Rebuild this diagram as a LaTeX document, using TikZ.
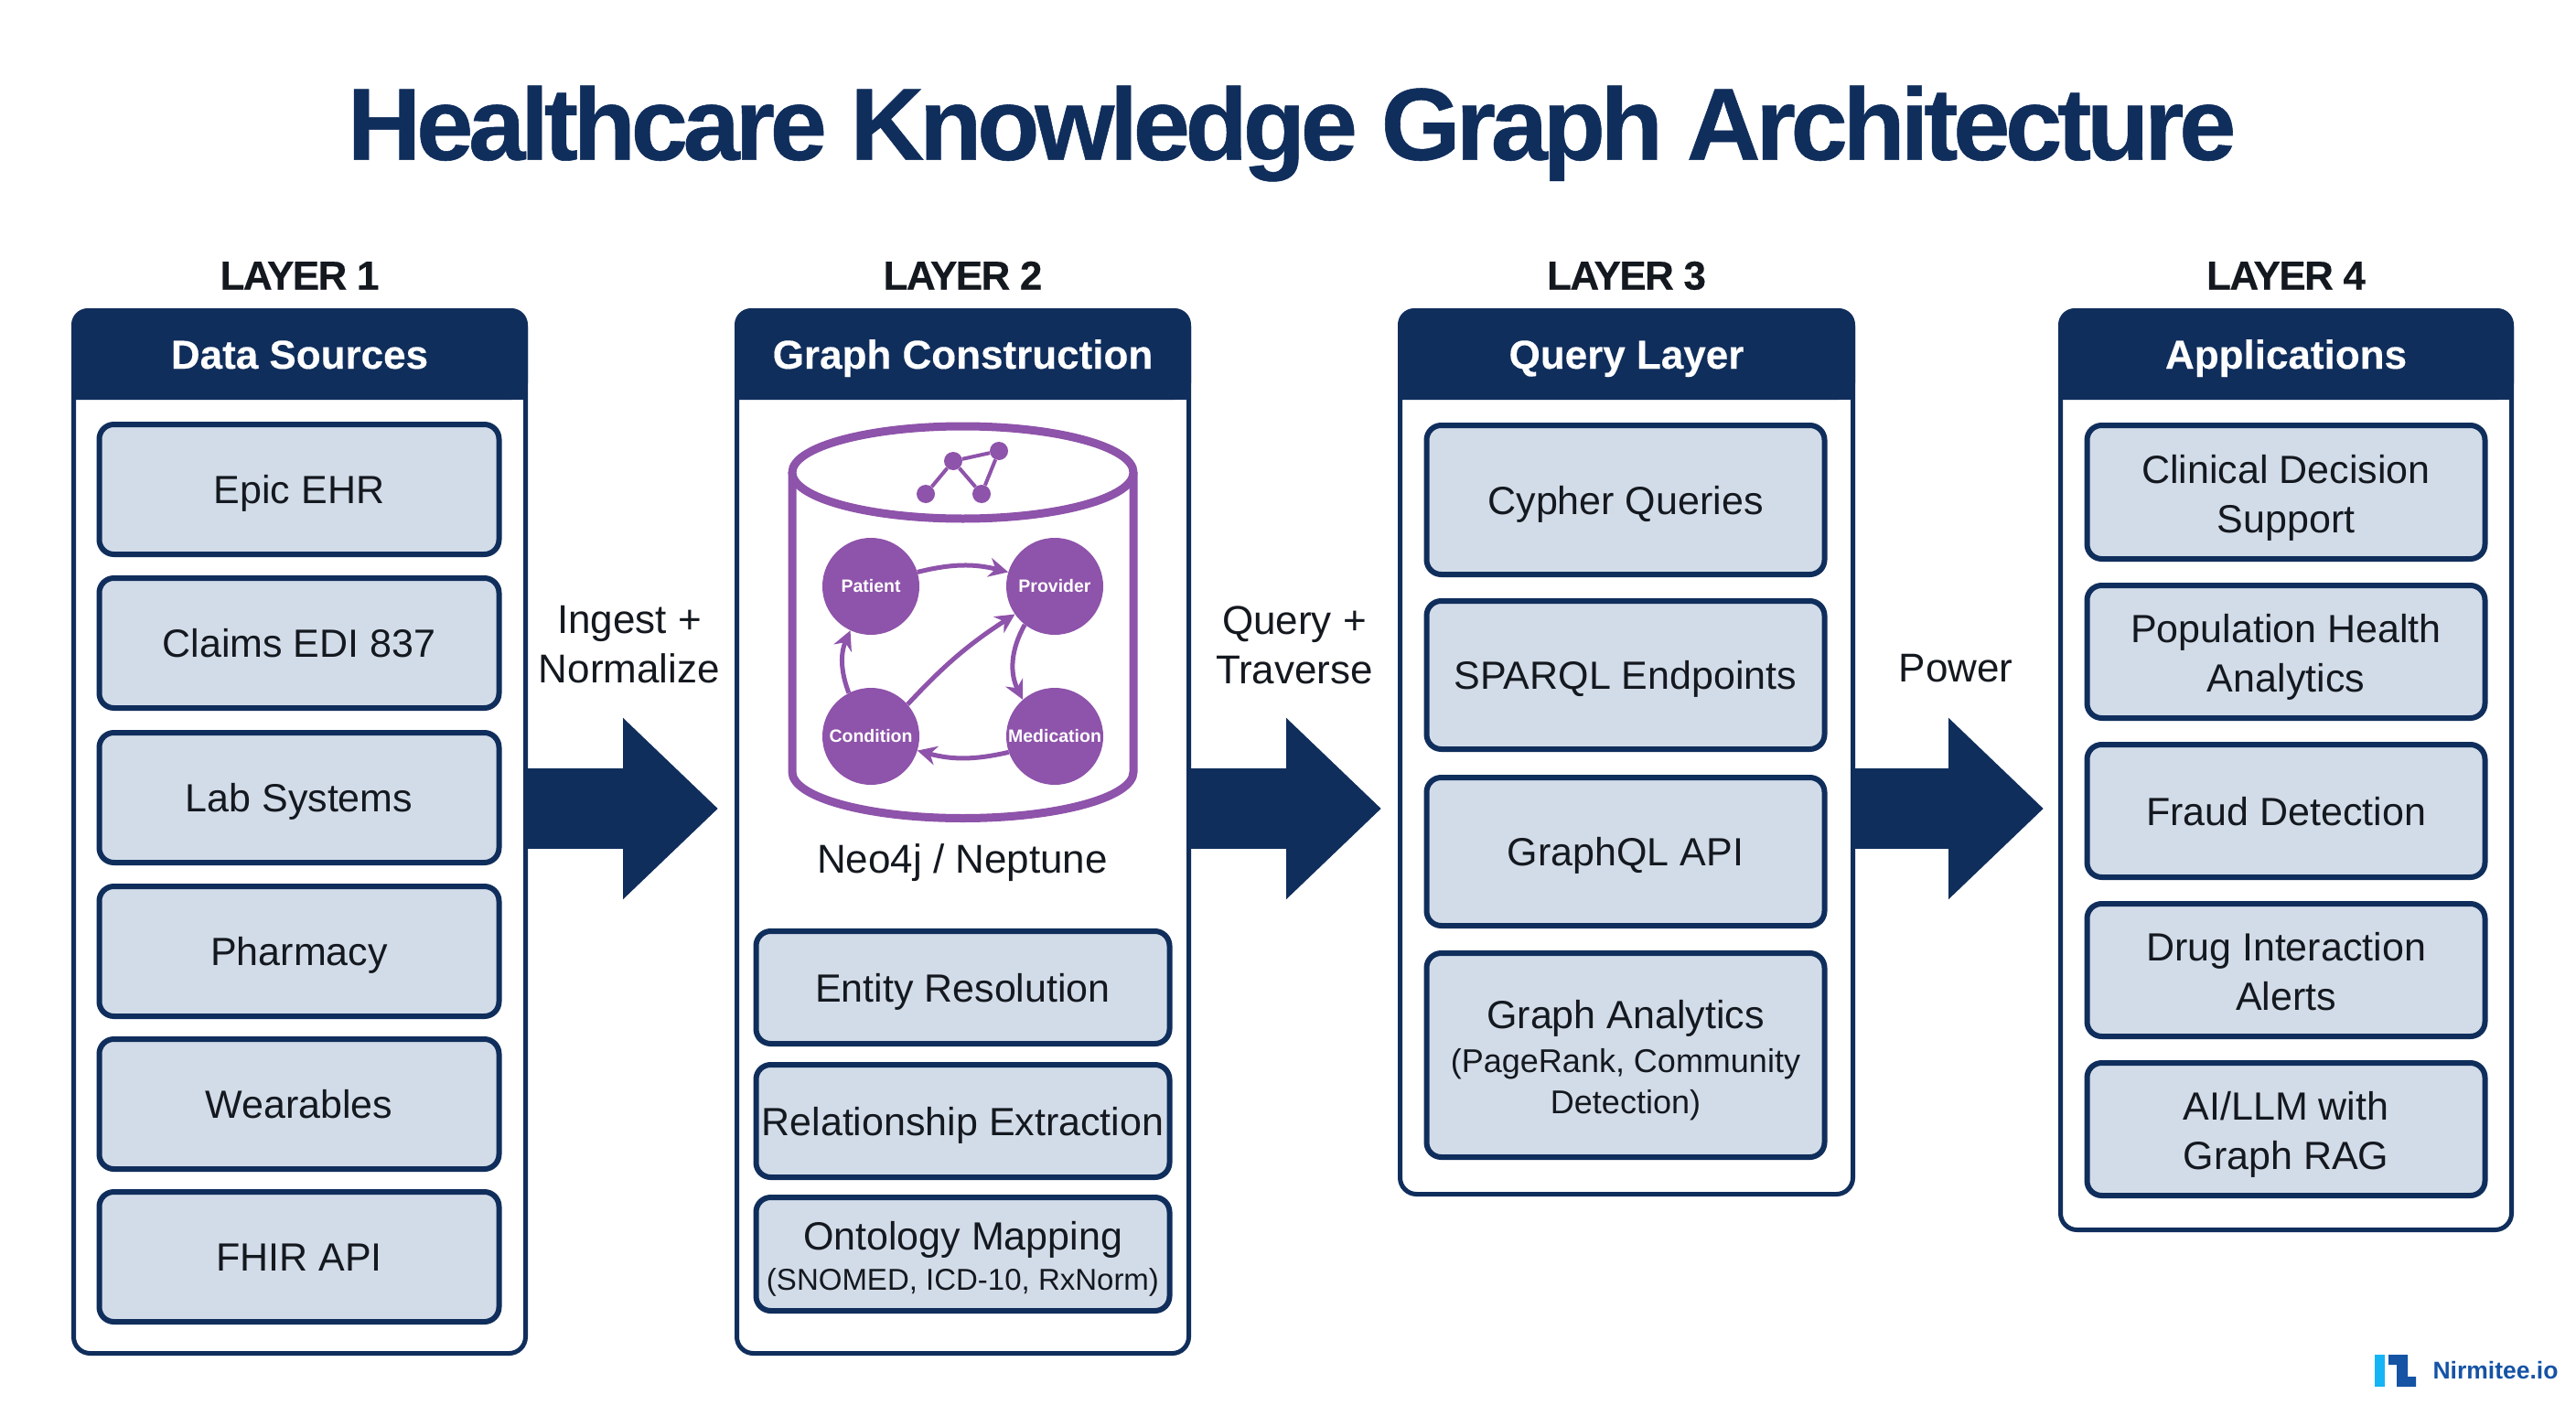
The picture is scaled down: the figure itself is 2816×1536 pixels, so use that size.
\documentclass[tikz,border=0pt]{standalone}
\usepackage{fontspec}
\setmainfont{Liberation Sans}
\newfontface\titlef{Liberation Sans Bold}[LetterSpace=-4.8,FakeBold=0.5]
\newfontface\layerf{Liberation Sans Bold}[LetterSpace=-3.6,FakeBold=0.3]
\newfontface\headf{Liberation Sans Bold}[FakeBold=0.3]
\usetikzlibrary{arrows.meta,shapes.geometric,calc}
\definecolor{navy}{HTML}{102E5C}
\definecolor{boxfill}{HTML}{D2DCE8}
\definecolor{gviolet}{HTML}{8E53AA}
\definecolor{ink}{HTML}{14181F}
\definecolor{logoblue}{HTML}{1553A5}
\definecolor{logosky}{HTML}{14B4F5}
\newcommand\fs[2]{\fontsize{#1bp}{#2bp}\selectfont}
\newcommand\mystrut{\vrule width 0pt height 40bp depth 9bp\relax}
\newcommand\dropline{\vrule width 0pt height 43bp depth 0bp\relax}
\tikzset{
  panelbox/.style={draw=navy,fill=white,line width=5bp,rounded corners=18bp,inner sep=0pt},
  itemstyle/.style={draw=navy,fill=boxfill,line width=6bp,rounded corners=16bp,inner sep=0pt,text=ink,align=center,font=\fs{43}{54},execute at begin node=\mystrut,execute at end node=\mystrut},
  headtext/.style={text=white,font=\headf\fs{44}{50},inner sep=0pt,anchor=base},
  layertext/.style={text=ink,font=\layerf\fs{44}{50},inner sep=0pt,anchor=base},
  flowtext/.style={text=ink,align=center,font=\fs{44}{54},inner sep=0pt},
  fatarrow/.style={draw=navy,line width=88bp,-{Triangle[length=104bp,width=192bp]},shorten >=18bp},
  gnode/.style={circle,fill=gviolet,minimum size=106bp,inner sep=0pt,text=white,font=\bfseries\fs{19.5}{22}},
  gedge/.style={draw=gviolet,line width=5bp,-{Stealth[length=21bp,width=21bp]}},
  cyl/.style={draw=gviolet,line width=9bp},
  mini/.style={circle,fill=gviolet,minimum size=20bp,inner sep=0pt},
  miniedge/.style={draw=gviolet,line width=4bp},
}
\newcommand\lpanel[6]{%
  \node[panelbox,minimum width={(#3-#2-5)*1bp},minimum height={(#4-337-5)*1bp}] (#1) at ({(#2+#3)/2},{(337+#4)/2}) {};
  \fill[navy] (#2,437) [rounded corners=18bp] -- (#2,337) -- (#3,337) -- (#3,437) [sharp corners] -- (#2,437) -- cycle;
  \fill[navy] (#2,400) rectangle (#3,437);
  \node[headtext] (#1h) at ({(#2+#3)/2},403) {#6};
  \node[layertext] (#1l) at ({(#2+#3)/2},316.5) {#5};
}
\newcommand\ibox[6]{%
  \node[itemstyle,minimum width={(#3-#2-5)*1bp},minimum height={(#5-#4-4)*1bp}] (#1) at ({(#2+#3)/2},{(#4+#5)/2}) {#6};
}
\begin{document}
\begin{tikzpicture}[x=1bp,y=-1bp]
\path[use as bounding box,fill=white] (0,0) rectangle (2816,1536);
\node[text=navy,font=\titlef\fs{112}{120},inner sep=0pt] (title) at (1412,146) {Healthcare Knowledge Graph Architecture};

\lpanel{pa}{78}{577}{1482}{LAYER 1}{Data Sources}
\lpanel{pb}{803}{1302}{1482}{LAYER 2}{Graph Construction}
\lpanel{pc}{1528}{2028}{1308}{LAYER 3}{Query Layer}
\lpanel{pd}{2250}{2748}{1347}{LAYER 4}{Applications}

% Layer 1
\ibox{a1}{106}{548}{462}{608}{Epic EHR}
\ibox{a2}{106}{548}{630}{776}{Claims EDI 837}
\ibox{a3}{106}{548}{799}{945}{Lab Systems}
\ibox{a4}{106}{548}{967}{1113}{Pharmacy}
\ibox{a5}{106}{548}{1134}{1280}{Wearables}
\ibox{a6}{106}{548}{1301}{1447}{FHIR API}

% Layer 2 cylinder
\draw[cyl,fill=white] (866,516.5) -- (866,844) arc[start angle=180,end angle=360,x radius=186.5,y radius=-50.5] -- (1239,516.5);
\draw[cyl,fill=white] (1052.5,516.5) ellipse[x radius=186.5,y radius=50.5];
\node[mini] (m1) at (1012,540) {};
\node[mini] (m2) at (1042,504) {};
\node[mini] (m3) at (1092,493) {};
\node[mini] (m4) at (1073,540) {};
\draw[miniedge] (m1) -- (m2) -- (m3) -- (m4) -- (m2);
\node[gnode] (pat) at (952,641) {Patient};
\node[gnode] (prov) at (1153,641) {Provider};
\node[gnode] (cond) at (952,805) {Condition};
\node[gnode] (med) at (1153,805) {Medication};
\draw[gedge] (pat.17) to[bend left=14] (prov.163);
\draw[gedge] (prov.232) to[bend right=28] (med.131);
\draw[gedge] (med.199) to[bend left=14] (cond.-17);
\draw[gedge] (cond.41) to[bend left=7] (prov.215);
\draw[gedge] (cond.117) to[bend left=22] (pat.245);
\node[text=ink,font=\fs{44}{50},inner sep=0pt] (neo) at (1052,943) {Neo4j / Neptune};

\ibox{b1}{824}{1281}{1016}{1143}{Entity Resolution}
\ibox{b2}{824}{1281}{1162}{1289}{Relationship Extraction}
\ibox{b3}{824}{1281}{1307}{1435}{\dropline Ontology Mapping\\[-10bp]\fs{33}{45}(SNOMED, ICD-10, RxNorm)}

% Layer 3
\ibox{c1}{1557}{1997}{463}{630}{Cypher Queries}
\ibox{c2}{1557}{1997}{655}{821}{SPARQL Endpoints}
\ibox{c3}{1557}{1997}{848}{1014}{GraphQL API}
\ibox{c4}{1557}{1997}{1040}{1267}{\dropline Graph Analytics\\[-6bp]\fs{36}{45}(PageRank, Community\\[-9bp]\fs{36}{45}Detection)}

% Layer 4
\ibox{d1}{2279}{2719}{463}{613}{\dropline Clinical Decision\\Support}
\ibox{d2}{2279}{2719}{638}{787}{\dropline Population Health\\Analytics}
\ibox{d3}{2279}{2719}{812}{961}{Fraud Detection}
\ibox{d4}{2279}{2719}{986}{1135}{\dropline Drug Interaction\\Alerts}
\ibox{d5}{2279}{2719}{1160}{1309}{\dropline AI/LLM with\\Graph RAG}

% Flow arrows
\coordinate (fa) at (577,884);
\draw[fatarrow] (pa.east |- fa) -- (pb.west |- fa);
\draw[fatarrow] (pb.east |- fa) -- (pc.west |- fa);
\draw[fatarrow,shorten >=16bp] (pc.east |- fa) -- (pd.west |- fa);
\node[flowtext] (fl1) at (688,705) {Ingest +\\Normalize};
\node[flowtext] (fl2) at (1415,705) {Query +\\Traverse};
\node[flowtext] (fl3) at (2138,731) {Power};

% Logo
\fill[logosky] (2596,1481) rectangle (2607,1516);
\fill[logoblue] (2611,1481) -- (2632,1481) -- (2632,1505) -- (2641,1505) -- (2641,1516) -- (2620,1516) -- (2620,1492) -- (2611,1492) -- cycle;
\node[text=logoblue,font=\bfseries\fs{26.5}{30},inner sep=0pt] (logo) at (2728,1498) {Nirmitee.io};
\end{tikzpicture}
\end{document}
